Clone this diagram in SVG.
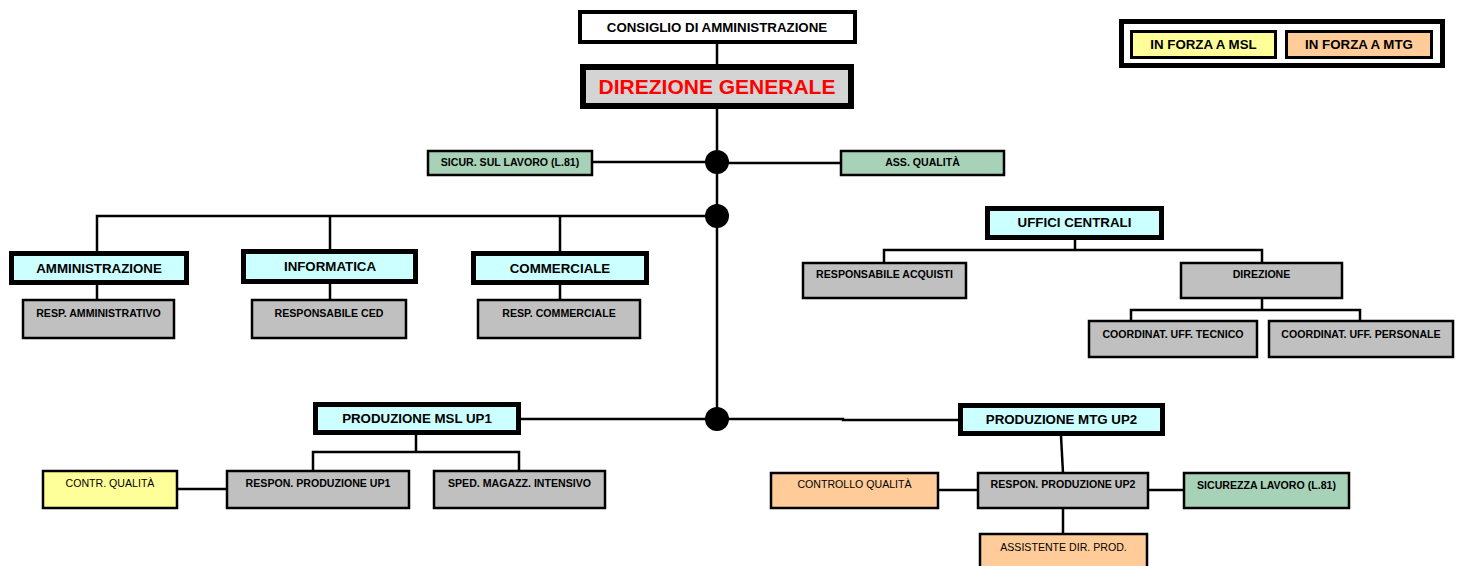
<svg xmlns="http://www.w3.org/2000/svg" width="1462" height="566" viewBox="0 0 1462 566">
<style>
text{font-family:"Liberation Sans",Arial,sans-serif;text-anchor:middle;fill:#000}
.b{font-weight:bold}
.t13{font-size:13.3px;font-weight:bold}
.t10{font-size:10.6px;font-weight:bold}
.n10{font-size:10.6px}
.hdr{fill:#CCFFFF;stroke:#000;stroke-width:5}
.gray{fill:#C0C0C0;stroke:#000;stroke-width:2.5}
.green{fill:#A8D2B8;stroke:#000;stroke-width:2.5}
.yel{fill:#FFFF99;stroke:#000;stroke-width:2.5}
.ora{fill:#FFCC99;stroke:#000;stroke-width:2.5}
.con line,.con polyline{stroke:#000;stroke-width:2.5;fill:none}
.dot{fill:#000}
</style>
<rect width="1462" height="566" fill="#fff"/>
<g class="con">
<line x1="717" y1="44" x2="717" y2="64"/>
<line x1="717" y1="109" x2="717" y2="419"/>
<line x1="592" y1="162" x2="717" y2="162"/>
<line x1="717" y1="163" x2="841" y2="163"/>
<polyline points="97,251 97,216 717,216"/>
<line x1="330" y1="216" x2="330" y2="249"/>
<line x1="560" y1="216" x2="560" y2="251"/>
<line x1="97" y1="285" x2="97" y2="300"/>
<line x1="330" y1="284" x2="330" y2="300"/>
<line x1="560" y1="285" x2="560" y2="300"/>
<line x1="1075" y1="240" x2="1075" y2="250"/>
<polyline points="884,263 884,250 1262,250 1262,263"/>
<line x1="1262" y1="299" x2="1262" y2="310"/>
<polyline points="1131,321 1131,310 1360,310 1360,321"/>
<line x1="521" y1="419" x2="717" y2="419"/>
<polyline points="717,419 843,419 843,420 958,420"/>
<line x1="416" y1="435" x2="416" y2="452"/>
<polyline points="313,471 313,452 519,452 519,471"/>
<line x1="177" y1="489" x2="227" y2="489"/>
<line x1="1061" y1="436" x2="1063" y2="473"/>
<line x1="938" y1="490" x2="978" y2="490"/>
<line x1="1148" y1="490" x2="1184" y2="490"/>
<line x1="1063" y1="508" x2="1063" y2="534"/>
<circle class="dot" cx="717" cy="162" r="12"/>
<circle class="dot" cx="717" cy="216" r="12"/>
<circle class="dot" cx="717" cy="419" r="12"/>
</g>
<g id="legend">
<rect x="1121.5" y="21.5" width="321" height="44" fill="#fff" stroke="#000" stroke-width="5"/>
<rect x="1131.5" y="31.5" width="144" height="26" fill="#FFFF99" stroke="#000" stroke-width="3"/>
<text class="t13" x="1203.5" y="49">IN FORZA A MSL</text>
<rect x="1286.5" y="31.5" width="145" height="26" fill="#FFCC99" stroke="#000" stroke-width="3"/>
<text class="t13" x="1359" y="49">IN FORZA A MTG</text>
</g>
<g id="consiglio">
<rect x="580" y="12" width="275" height="30" fill="#fff" stroke="#000" stroke-width="4"/>
<text class="t13" x="717" y="32">CONSIGLIO DI AMMINISTRAZIONE</text>
</g>
<g id="direzione-generale">
<rect x="583" y="67" width="268" height="39" fill="#D4D4D4" stroke="#000" stroke-width="6"/>
<text class="b" x="717" y="94" style="font-size:21px;fill:#FF0000">DIREZIONE GENERALE</text>
</g>
<g id="sicur">
<rect class="green" x="428" y="151" width="164" height="24"/>
<text class="t10" x="510" y="166">SICUR. SUL LAVORO (L.81)</text>
</g>
<g id="ass-qualita">
<rect class="green" x="841" y="151" width="163" height="24"/>
<text class="t10" x="922.5" y="166">ASS. QUALITÀ</text>
</g>
<g id="amministrazione">
<rect class="hdr" x="11.5" y="253.5" width="175" height="29"/>
<text class="t13" x="99" y="273">AMMINISTRAZIONE</text>
</g>
<g id="informatica">
<rect class="hdr" x="243.5" y="251.5" width="172" height="30"/>
<text class="t13" x="330" y="271">INFORMATICA</text>
</g>
<g id="commerciale">
<rect class="hdr" x="473.5" y="253.5" width="173" height="29"/>
<text class="t13" x="560" y="273">COMMERCIALE</text>
</g>
<g id="resp-amministrativo">
<rect class="gray" x="23" y="300" width="151" height="38"/>
<text class="t10" x="98.5" y="317">RESP. AMMINISTRATIVO</text>
</g>
<g id="responsabile-ced">
<rect class="gray" x="252" y="300" width="154" height="38"/>
<text class="t10" x="329" y="317">RESPONSABILE CED</text>
</g>
<g id="resp-commerciale">
<rect class="gray" x="478" y="300" width="162" height="38"/>
<text class="t10" x="559" y="317">RESP. COMMERCIALE</text>
</g>
<g id="uffici-centrali">
<rect class="hdr" x="987.5" y="208.5" width="174" height="29"/>
<text class="t13" x="1074.5" y="227">UFFICI CENTRALI</text>
</g>
<g id="responsabile-acquisti">
<rect class="gray" x="803" y="263" width="163" height="35"/>
<text class="t10" x="884.5" y="278">RESPONSABILE ACQUISTI</text>
</g>
<g id="direzione">
<rect class="gray" x="1181" y="263" width="161" height="35"/>
<text class="t10" x="1261.5" y="278">DIREZIONE</text>
</g>
<g id="coord-tecnico">
<rect class="gray" x="1089" y="321" width="168" height="36"/>
<text class="t10" x="1173" y="338">COORDINAT. UFF. TECNICO</text>
</g>
<g id="coord-personale">
<rect class="gray" x="1269" y="321" width="184" height="36"/>
<text class="t10" x="1361" y="338">COORDINAT. UFF. PERSONALE</text>
</g>
<g id="produzione-msl">
<rect class="hdr" x="315.5" y="404.5" width="203" height="28"/>
<text class="t13" x="417" y="423">PRODUZIONE MSL UP1</text>
</g>
<g id="produzione-mtg">
<rect class="hdr" x="960.5" y="405.5" width="202" height="28"/>
<text class="t13" x="1061.5" y="424">PRODUZIONE MTG UP2</text>
</g>
<g id="contr-qualita">
<rect class="yel" x="43" y="471" width="134" height="37"/>
<text class="n10" x="110" y="487">CONTR. QUALITÀ</text>
</g>
<g id="respon-up1">
<rect class="gray" x="227" y="471" width="182" height="37"/>
<text class="t10" x="318" y="487">RESPON. PRODUZIONE UP1</text>
</g>
<g id="sped-magazz">
<rect class="gray" x="434" y="471" width="171" height="37"/>
<text class="t10" x="519.5" y="487">SPED. MAGAZZ. INTENSIVO</text>
</g>
<g id="controllo-qualita">
<rect class="ora" x="771" y="473" width="167" height="35"/>
<text class="n10" x="854.5" y="488">CONTROLLO QUALITÀ</text>
</g>
<g id="respon-up2">
<rect class="gray" x="978" y="473" width="170" height="35"/>
<text class="t10" x="1063" y="488">RESPON. PRODUZIONE UP2</text>
</g>
<g id="sicurezza-lavoro">
<rect class="green" x="1184" y="473" width="165" height="35"/>
<text class="t10" x="1266.5" y="489">SICUREZZA LAVORO (L.81)</text>
</g>
<g id="assistente">
<rect class="ora" x="980" y="534" width="167" height="40"/>
<text class="n10" x="1063.5" y="551">ASSISTENTE DIR. PROD.</text>
</g>
</svg>
